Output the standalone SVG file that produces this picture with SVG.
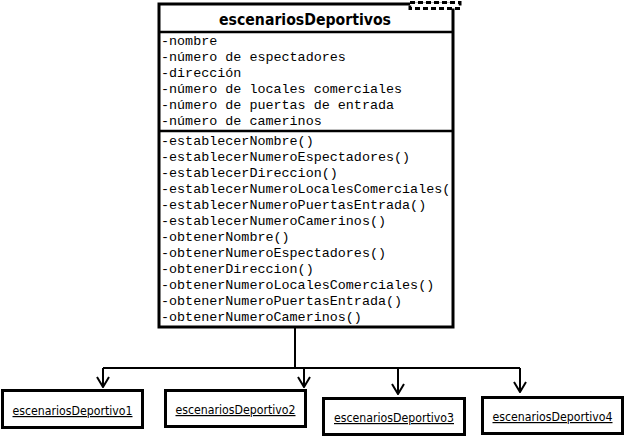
<svg xmlns="http://www.w3.org/2000/svg" width="625" height="436" viewBox="0 0 625 436">
<defs>
<style>
.box{fill:#fff;stroke:#000;stroke-width:3}
.sep{stroke:#000;stroke-width:2.5}
.mono{font-family:"Liberation Mono","Courier New",monospace;font-size:13.4px;fill:#000}
.title{font-family:"DejaVu Sans",Verdana,sans-serif;font-weight:bold;font-size:16px;fill:#000}
.obj{font-family:"DejaVu Sans",Verdana,sans-serif;font-size:12px;fill:#000;text-decoration:underline}
.conn{fill:none;stroke:#000;stroke-width:2}
</style>
<marker id="arr" markerWidth="12" markerHeight="14" refX="11" refY="7" orient="auto" markerUnits="userSpaceOnUse" viewBox="0 0 12 14">
<path d="M1,1 L11,7 L1,13" fill="none" stroke="#000" stroke-width="2"/>
</marker>
</defs>
<rect width="625" height="436" fill="#fff"/>
<g id="class-escenariosDeportivos">
<rect class="box" x="159" y="4" width="294" height="323"/>
<rect x="410" y="2.5" width="50" height="6" fill="#fff" stroke="#000" stroke-width="3" stroke-dasharray="5,3"/>
<rect x="411.5" y="4" width="47" height="3" fill="#fff"/>
<line class="sep" x1="159" y1="32" x2="453" y2="32"/>
<line class="sep" x1="159" y1="131" x2="453" y2="131"/>
<text class="title" x="305" y="25" text-anchor="middle" textLength="172" lengthAdjust="spacingAndGlyphs">escenariosDeportivos</text>
<text class="mono" x="161" y="45">-nombre</text>
<text class="mono" x="161" y="61">-número de espectadores</text>
<text class="mono" x="161" y="77">-dirección</text>
<text class="mono" x="161" y="93">-número de locales comerciales</text>
<text class="mono" x="161" y="109">-número de puertas de entrada</text>
<text class="mono" x="161" y="125">-número de camerinos</text>
<text class="mono" x="161" y="145">-establecerNombre()</text>
<text class="mono" x="161" y="161">-establecerNumeroEspectadores()</text>
<text class="mono" x="161" y="177">-establecerDireccion()</text>
<text class="mono" x="161" y="193">-establecerNumeroLocalesComerciales(</text>
<text class="mono" x="161" y="209">-establecerNumeroPuertasEntrada()</text>
<text class="mono" x="161" y="225">-establecerNumeroCamerinos()</text>
<text class="mono" x="161" y="241">-obtenerNombre()</text>
<text class="mono" x="161" y="257">-obtenerNumeroEspectadores()</text>
<text class="mono" x="161" y="273">-obtenerDireccion()</text>
<text class="mono" x="161" y="289">-obtenerNumeroLocalesComerciales()</text>
<text class="mono" x="161" y="305">-obtenerNumeroPuertasEntrada()</text>
<text class="mono" x="161" y="321">-obtenerNumeroCamerinos()</text>
</g>
<g id="connectors">
<path class="conn" d="M295,328 V368"/>
<path class="conn" d="M103,368 H520"/>
<path class="conn" d="M103,368 V387" marker-end="url(#arr)"/>
<path class="conn" d="M304,368 V387" marker-end="url(#arr)"/>
<path class="conn" d="M398,368 V394" marker-end="url(#arr)"/>
<path class="conn" d="M520,368 V392" marker-end="url(#arr)"/>
</g>
<g id="obj1">
<rect class="box" x="2.5" y="390.5" width="140" height="37"/>
<text class="obj" x="72.5" y="415" text-anchor="middle" textLength="120" lengthAdjust="spacingAndGlyphs">escenariosDeportivo1</text>
</g>
<g id="obj2">
<rect class="box" x="165.5" y="390.5" width="140" height="36"/>
<text class="obj" x="235.5" y="414" text-anchor="middle" textLength="120" lengthAdjust="spacingAndGlyphs">escenariosDeportivo2</text>
</g>
<g id="obj3">
<rect class="box" x="323.5" y="398.5" width="141" height="36"/>
<text class="obj" x="394" y="422" text-anchor="middle" textLength="120" lengthAdjust="spacingAndGlyphs">escenariosDeportivo3</text>
</g>
<g id="obj4">
<rect class="box" x="482.5" y="397.5" width="140" height="36"/>
<text class="obj" x="552.5" y="421" text-anchor="middle" textLength="120" lengthAdjust="spacingAndGlyphs">escenariosDeportivo4</text>
</g>
</svg>
